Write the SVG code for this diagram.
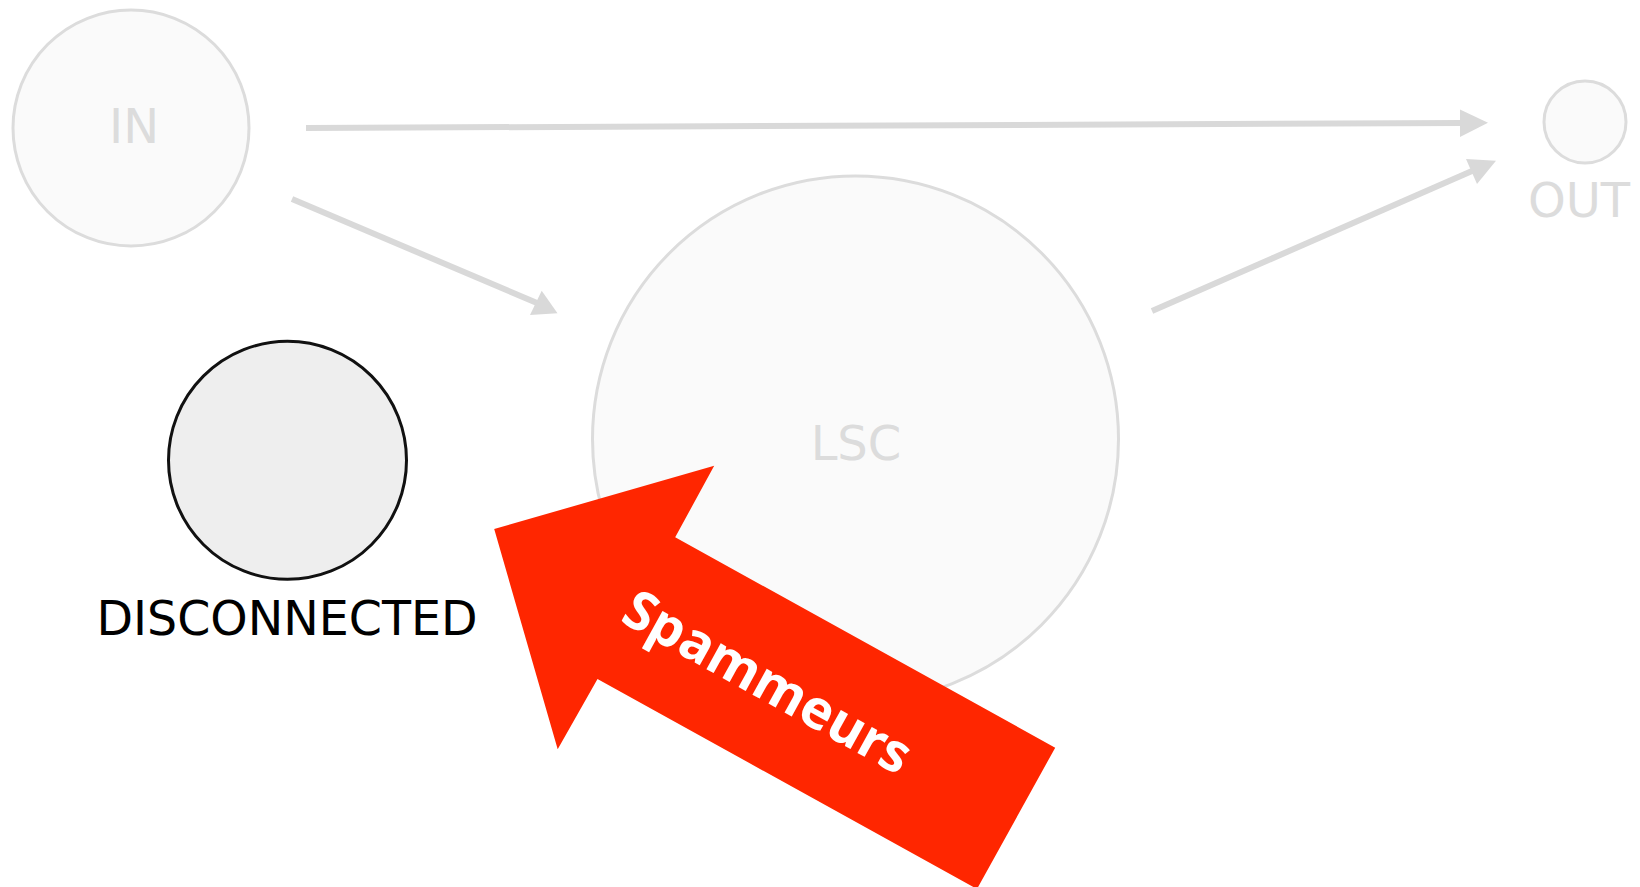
<svg xmlns="http://www.w3.org/2000/svg" width="1640" height="887" viewBox="0 0 1640 887">
<style>
.faded circle{fill:#fafafa;stroke:#dcdcdc;stroke-width:3}
.faded text{fill:#dcdcdc;font-family:"DejaVu Sans",sans-serif;font-size:48px;text-anchor:middle}
.edge{stroke:#d9d9d9;stroke-width:6;fill:none}
.head{fill:#d9d9d9}
</style>
<rect width="1640" height="887" fill="#ffffff"/>
<g id="connectors">
<line class="edge" x1="306" y1="128" x2="1462" y2="123"/>
<polygon class="head" points="1460,109.5 1488,122.7 1460,137"/>
<line class="edge" x1="292" y1="199" x2="537" y2="303"/>
<polygon class="head" points="541.7,290.7 557.5,313.3 530,315"/>
<line class="edge" x1="1152" y1="311" x2="1472" y2="171"/>
<polygon class="head" points="1466,159 1496,160.7 1477,184"/>
</g>
<g id="node-in" class="faded">
<circle cx="131" cy="128" r="118"/>
<text x="134" y="143">IN</text>
</g>
<g id="node-out" class="faded">
<circle cx="1585" cy="122" r="41"/>
<text x="1579" y="217">OUT</text>
</g>
<g id="node-lsc" class="faded">
<circle cx="855.5" cy="439" r="263"/>
<text x="856" y="460">LSC</text>
</g>
<g id="node-disconnected">
<circle cx="287.5" cy="460.3" r="119" fill="#eeeeee" stroke="#111111" stroke-width="3"/>
<text x="287" y="635" font-family="DejaVu Sans, sans-serif" font-size="47.5" fill="#000000" text-anchor="middle">DISCONNECTED</text>
</g>
<g id="spammeurs-arrow">
<polygon fill="#ff2600" points="494.2,529 714.2,465.7 675.2,537.3 1055.2,747.7 977,889 597.5,679 557.7,749.3"/>
<text transform="translate(767.5,682.5) rotate(29)" y="18" font-family="Noto Sans, Open Sans, sans-serif" font-weight="bold" font-size="54" fill="#ffffff" text-anchor="middle">Spammeurs</text>
</g>
</svg>
